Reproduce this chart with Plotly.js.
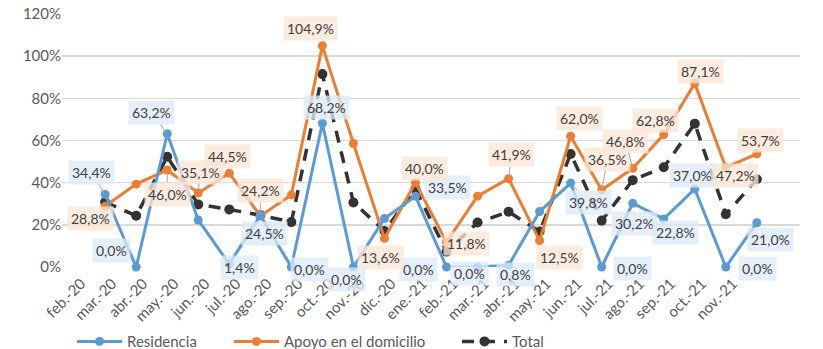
<!DOCTYPE html>
<html><head><meta charset="utf-8">
<script src="https://cdn.plot.ly/plotly-3.0.1.min.js"></script>
<style>html,body{margin:0;padding:0;background:#fff}#chart{width:823px;height:349px}</style>
</head><body><div id="chart"></div>
<script>
const months = ["feb.-20","mar.-20","abr.-20","may.-20","jun.-20","jul.-20","ago.-20","sep.-20","oct.-20","nov.-20","dic.-20","ene.-21","feb.-21","mar.-21","abr.-21","may.-21","jun.-21","jul.-21","ago.-21","sep.-21","oct.-21","nov.-21"];
const residencia = [34.4,0.0,63.2,22.3,1.4,24.5,0.0,68.2,0.0,23.0,33.5,0.0,0.0,0.8,26.3,39.8,0.0,30.2,22.8,37.0,0.0,21.0];
const apoyo = [28.8,39.3,46.0,35.1,44.5,24.2,34.2,104.9,58.6,13.6,40.0,11.8,33.6,41.9,12.5,62.0,36.5,46.8,62.8,87.1,47.2,53.7];
const total = [30.8,24.3,52.3,29.7,27.3,24.6,21.3,91.5,30.6,17.1,37.0,7.3,21.1,26.2,16.8,53.6,22.0,41.2,47.3,68.0,25.0,41.6];
const yTicks = [0,20,40,60,80,100,120];
const seriesNames = ["Residencia","Apoyo en el domicilio","Total"];

// label placement per point: [dx, dy, leader]  (null = no label)
const resLab = [[-14,-22,1],[-25,-17,0],[-16,-21,1],null,[10,3,0],[4,18,0],[18,2,0],[4,-16,0],[-7,12,0],null,[32,-9,0],[-28,2,0],[-8,6,0],[7,9,0],null,[18,19,1],[31,1,0],[2,20,0],[12,14,0],[-2,-13,0],[32,1,0],[14,17,0]];
const apoLab = [[-15,12,0],null,[0,24,1],[2,-21,1],[-2,-17,0],[0,-25,1],null,[-12,-17,0],null,[-4,19,0],[9,-14,0],[20,1,0],null,[3,-24,1],[20,17,0],[9,-18,0],[6,-31,1],[-7,-27,1],[-8,-14,0],[6,-12,0],[10,8,0],[4,-13,0]];

const FONT = 'Lato, "Open Sans", sans-serif';
const fmt = v => v.toFixed(1).replace('.', ',') + '%';
const annotations = [];
function addLabels(vals, labs, bg) {
  vals.forEach((v, i) => {
    const l = labs[i];
    if (!l) return;
    const a = {x: months[i], y: v, xref: 'x', yref: 'y', text: fmt(v),
      font: {family: FONT, size: 14, color: '#404040'},
      bgcolor: bg, borderpad: 3};
    if (l[2]) {
      Object.assign(a, {showarrow: true, arrowhead: 0, arrowwidth: 1, arrowcolor: '#A6A6A6', ax: l[0], ay: l[1], standoff: 2});
    } else {
      Object.assign(a, {showarrow: false, xshift: l[0], yshift: -l[1]});
    }
    annotations.push(a);
  });
}
addLabels(residencia, resLab, 'rgba(222,235,247,0.78)');
addLabels(apoyo, apoLab, 'rgba(251,229,214,0.78)');

const traces = [
  {x: months, y: residencia, name: seriesNames[0], type: 'scatter', mode: 'lines+markers',
   line: {color: '#5B9BD5', width: 3}, marker: {color: '#5B9BD5', size: 9}, cliponaxis: false, legend: 'legend'},
  {x: months, y: apoyo, name: seriesNames[1], type: 'scatter', mode: 'lines+markers',
   line: {color: '#ED7D31', width: 3}, marker: {color: '#ED7D31', size: 9}, cliponaxis: false, legend: 'legend2'},
  {x: months, y: total, name: seriesNames[2], type: 'scatter', mode: 'lines+markers',
   line: {color: '#333333', width: 3.5, dash: '12px,9px'}, marker: {color: '#333333', size: 10}, cliponaxis: false, legend: 'legend3'}
];
traces.reverse();

const legFont = {family: FONT, size: 15, color: '#595959'};
const legBase = {orientation: 'h', yanchor: 'middle', y: -0.295, xanchor: 'left', font: legFont, bgcolor: 'rgba(0,0,0,0)', itemwidth: 45};

const layout = {
  width: 823, height: 349,
  margin: {l: 62, r: 23, t: 14, b: 82, autoexpand: false},
  paper_bgcolor: '#fff', plot_bgcolor: '#fff',
  showlegend: true,
  legend: Object.assign({}, legBase, {x: (72 - 62) / 738}),
  legend2: Object.assign({}, legBase, {x: (229 - 62) / 738}),
  legend3: Object.assign({}, legBase, {x: (457 - 62) / 738}),
  xaxis: {type: 'category', tickangle: -45, showgrid: false, zeroline: false, showline: false, ticks: '',
    ticklabelshift: -24, ticklabelstandoff: 4,
    tickfont: {family: FONT, size: 15, color: '#595959'}},
  yaxis: {range: [0, 120], tickvals: yTicks, ticktext: yTicks.map(t => t + '%'), showgrid: true, gridcolor: '#D9D9D9', gridwidth: 1.5,
    zeroline: false, showline: false, ticks: '',
    tickfont: {family: FONT, size: 15, color: '#595959'}},
  annotations: annotations
};
Plotly.newPlot('chart', traces, layout, {displayModeBar: false, staticPlot: true});
</script></body></html>
